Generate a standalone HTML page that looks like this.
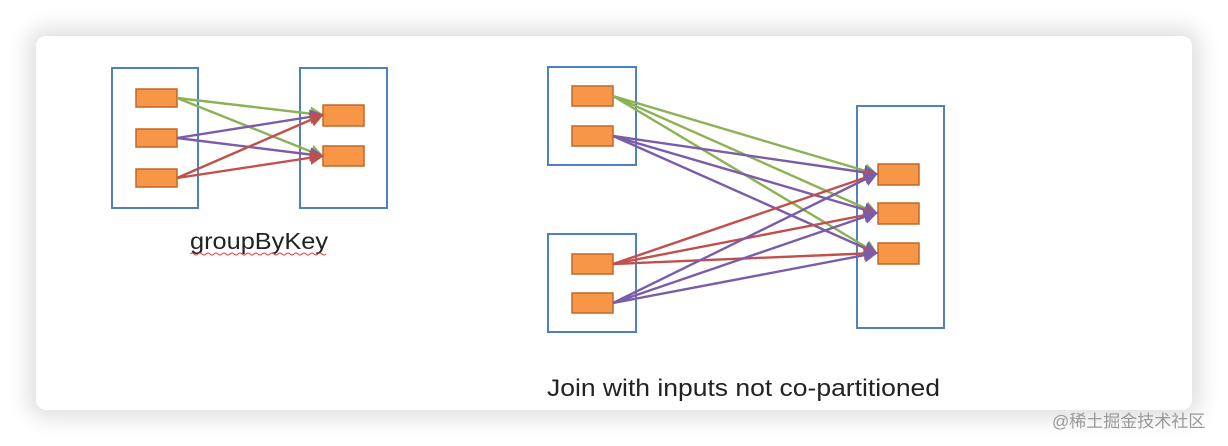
<!DOCTYPE html>
<html><head><meta charset="utf-8">
<style>
html,body{margin:0;padding:0;background:#fff;}
body{width:1228px;height:446px;position:relative;overflow:hidden;}
.card{position:absolute;left:36px;top:36px;width:1156px;height:374px;background:#fff;border-radius:10px;box-shadow:0 0 22px 8px rgba(0,0,0,0.13);}
svg{position:absolute;left:0;top:0;}
.wm{position:absolute;left:1052px;top:407px;font:17px "Liberation Sans","Noto Sans CJK SC",sans-serif;color:#9a9a9a;}
</style></head><body>
<div class="card"></div>
<svg width="1228" height="446" viewBox="0 0 1228 446">
<defs>
<marker id="ag" markerWidth="6" markerHeight="6" refX="5" refY="3" orient="auto" markerUnits="strokeWidth"><path d="M0,0 L6,3 L0,6z" fill="#8db255"/></marker>
<marker id="ap" markerWidth="6" markerHeight="6" refX="5" refY="3" orient="auto" markerUnits="strokeWidth"><path d="M0,0 L6,3 L0,6z" fill="#7a5ca8"/></marker>
<marker id="ar" markerWidth="6" markerHeight="6" refX="5" refY="3" orient="auto" markerUnits="strokeWidth"><path d="M0,0 L6,3 L0,6z" fill="#c0504d"/></marker>
</defs>
<g fill="none" stroke="#4f81bd" stroke-width="2">
<rect x="112" y="68" width="86" height="140"/>
<rect x="300" y="68" width="87" height="140"/>
<rect x="548" y="67" width="88" height="98"/>
<rect x="548" y="234" width="88" height="98"/>
<rect x="857" y="106" width="87" height="222"/>
</g>
<g fill="#f79646" stroke="#c0692a" stroke-width="1.5">
<rect x="136" y="89" width="41" height="18"/>
<rect x="136" y="129" width="41" height="18"/>
<rect x="136" y="169" width="41" height="18"/>
<rect x="323" y="105" width="41" height="21"/>
<rect x="323" y="146" width="41" height="20"/>
<rect x="572" y="86" width="41" height="20"/>
<rect x="572" y="126" width="41" height="20"/>
<rect x="572" y="254" width="41" height="20"/>
<rect x="572" y="293" width="41" height="20"/>
<rect x="878" y="164" width="41" height="21"/>
<rect x="878" y="203" width="41" height="21"/>
<rect x="878" y="243" width="41" height="21"/>
</g>
<g stroke-width="2.4" fill="none">
<line x1="177" y1="98" x2="322" y2="115" stroke="#8db255" marker-end="url(#ag)"/>
<line x1="177" y1="98" x2="322" y2="156" stroke="#8db255" marker-end="url(#ag)"/>
<line x1="177" y1="138" x2="322" y2="115" stroke="#7a5ca8" marker-end="url(#ap)"/>
<line x1="177" y1="138" x2="322" y2="156" stroke="#7a5ca8" marker-end="url(#ap)"/>
<line x1="177" y1="178" x2="322" y2="115" stroke="#c0504d" marker-end="url(#ar)"/>
<line x1="177" y1="178" x2="322" y2="156" stroke="#c0504d" marker-end="url(#ar)"/>

<line x1="613" y1="96" x2="876" y2="174" stroke="#8db255" marker-end="url(#ag)"/>
<line x1="613" y1="96" x2="876" y2="213" stroke="#8db255" marker-end="url(#ag)"/>
<line x1="613" y1="96" x2="876" y2="253" stroke="#8db255" marker-end="url(#ag)"/>
<line x1="613" y1="136" x2="876" y2="174" stroke="#7a5ca8" marker-end="url(#ap)"/>
<line x1="613" y1="136" x2="876" y2="213" stroke="#7a5ca8" marker-end="url(#ap)"/>
<line x1="613" y1="136" x2="876" y2="253" stroke="#7a5ca8" marker-end="url(#ap)"/>
<line x1="613" y1="264" x2="876" y2="174" stroke="#c0504d" marker-end="url(#ar)"/>
<line x1="613" y1="264" x2="876" y2="213" stroke="#c0504d" marker-end="url(#ar)"/>
<line x1="613" y1="264" x2="876" y2="253" stroke="#c0504d" marker-end="url(#ar)"/>
<line x1="613" y1="303" x2="876" y2="174" stroke="#7a5ca8" marker-end="url(#ap)"/>
<line x1="613" y1="303" x2="876" y2="213" stroke="#7a5ca8" marker-end="url(#ap)"/>
<line x1="613" y1="303" x2="876" y2="253" stroke="#7a5ca8" marker-end="url(#ap)"/>
</g>
<text x="190" y="249" textLength="138" lengthAdjust="spacingAndGlyphs" font-family="Liberation Sans, sans-serif" font-size="23" fill="#222">groupByKey</text>
<path d="M190,254 q2,-2 4,0 t4,0 t4,0 t4,0 t4,0 t4,0 t4,0 t4,0 t4,0 t4,0 t4,0 t4,0 t4,0 t4,0 t4,0 t4,0 t4,0 t4,0 t4,0 t4,0 t4,0 t4,0 t4,0 t4,0 t4,0 t4,0 t4,0 t4,0 t4,0 t4,0 t4,0 t4,0 t4,0 t4,0" fill="none" stroke="#e04040" stroke-width="1"/>
<text x="547" y="396" textLength="393" lengthAdjust="spacingAndGlyphs" font-family="Liberation Sans, sans-serif" font-size="24" fill="#222">Join with inputs not co-partitioned</text>
</svg>
<div class="wm">@稀土掘金技术社区</div>
</body></html>
